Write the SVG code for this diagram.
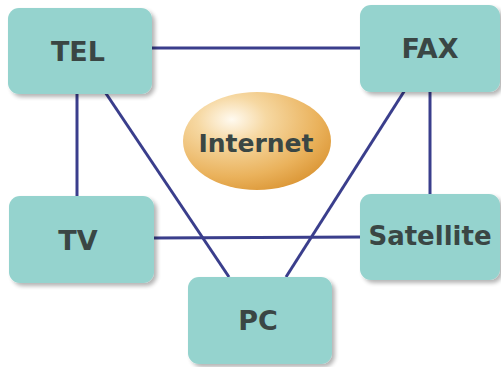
<svg xmlns="http://www.w3.org/2000/svg" width="501" height="367" viewBox="0 0 501 367">
<style>
.box{fill:#95d3ce;filter:url(#sh)}
.lbl{font-family:"DejaVu Sans",sans-serif;font-weight:bold;font-size:27px;fill:#3a4644;text-anchor:middle}
.ln{stroke:#3a3e8c;stroke-width:3;fill:none}
</style>
<defs>
<filter id="sh" x="-10%" y="-10%" width="125%" height="130%">
<feGaussianBlur in="SourceAlpha" stdDeviation="2"/>
<feOffset dx="3" dy="3" result="b"/>
<feComponentTransfer><feFuncA type="linear" slope="0.3"/></feComponentTransfer>
<feMerge><feMergeNode/><feMergeNode in="SourceGraphic"/></feMerge>
</filter>
<radialGradient id="eg" cx="0.33" cy="0.28" r="0.78">
<stop offset="0" stop-color="#fffaf0"/>
<stop offset="0.3" stop-color="#f6d8a2"/>
<stop offset="0.75" stop-color="#eab25c"/>
<stop offset="1" stop-color="#dc9838"/>
</radialGradient>
</defs>
<rect width="501" height="367" fill="#ffffff"/>
<g id="connectors">
<line class="ln" x1="150" y1="48" x2="362" y2="48"/>
<line class="ln" x1="77" y1="92" x2="77" y2="198"/>
<line class="ln" x1="105" y1="92" x2="229" y2="277"/>
<line class="ln" x1="430" y1="90" x2="430" y2="196"/>
<line class="ln" x1="405" y1="90" x2="286" y2="277"/>
<line class="ln" x1="152" y1="238" x2="362" y2="237"/>
</g>
<g id="internet">
<ellipse cx="257" cy="141" rx="74" ry="49" fill="url(#eg)"/>
<text class="lbl" x="256" y="152" style="font-size:25px">Internet</text>
</g>
<g id="tel">
<rect class="box" x="8" y="8" width="144" height="86" rx="11"/>
<text class="lbl" x="78" y="61">TEL</text>
</g>
<g id="fax">
<rect class="box" x="360" y="5" width="140" height="87" rx="11"/>
<text class="lbl" x="430" y="58">FAX</text>
</g>
<g id="tv">
<rect class="box" x="9" y="196" width="145" height="87" rx="11"/>
<text class="lbl" x="78" y="250">TV</text>
</g>
<g id="satellite">
<rect class="box" x="360" y="194" width="140" height="86" rx="11"/>
<text class="lbl" x="430" y="245" style="font-size:26px">Satellite</text>
</g>
<g id="pc">
<rect class="box" x="188" y="277" width="144" height="87" rx="11"/>
<text class="lbl" x="258" y="330">PC</text>
</g>
</svg>
